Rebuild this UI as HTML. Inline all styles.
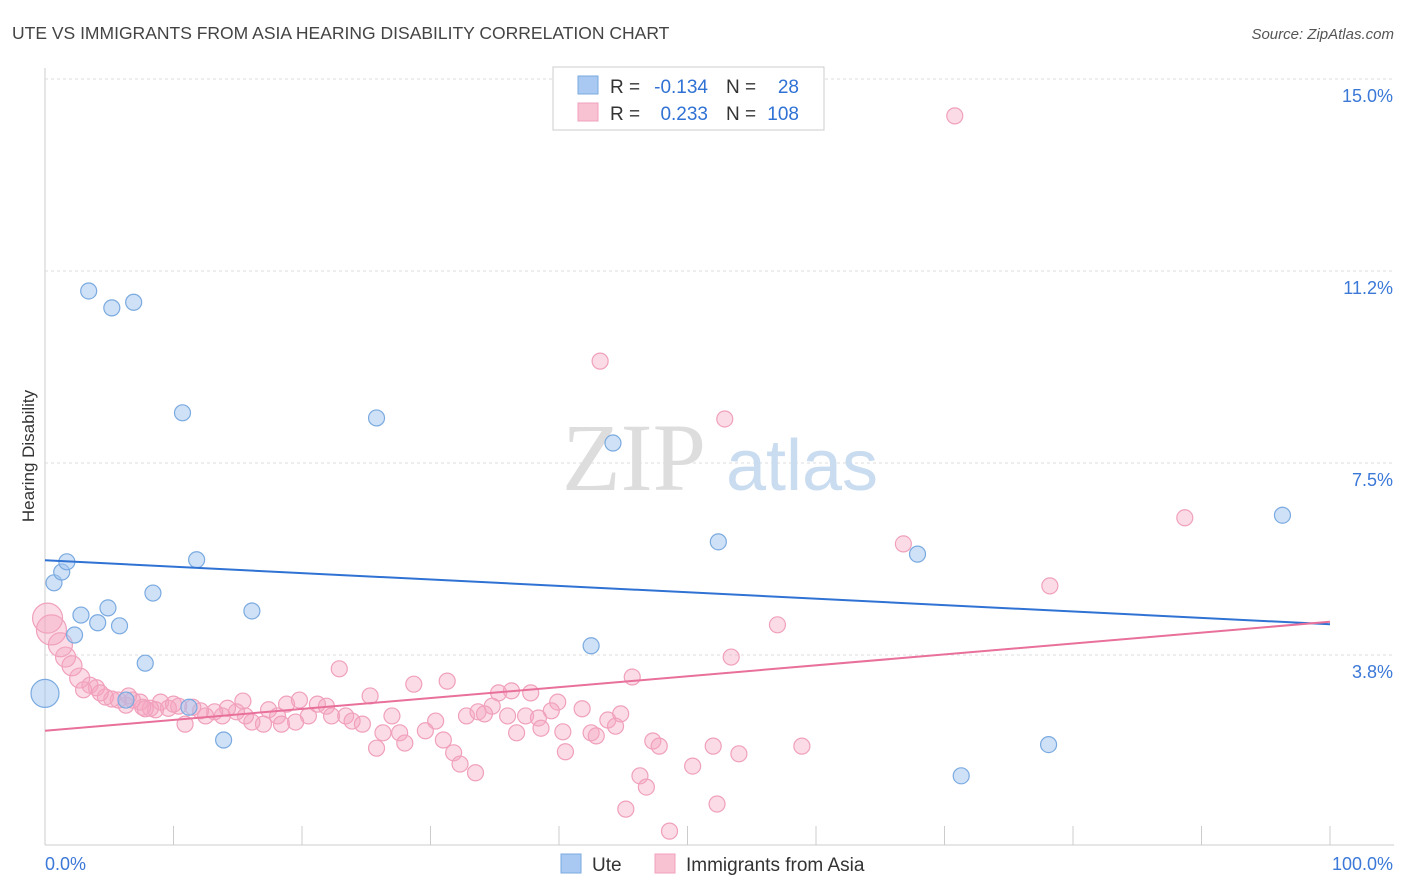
<!DOCTYPE html>
<html><head><meta charset="utf-8"><style>
body{margin:0;background:#fff;font-family:"Liberation Sans",sans-serif;}
svg{display:block}
</style></head><body>
<svg width="1406" height="892">
<text x="12" y="39" font-size="17.5" fill="#444">UTE VS IMMIGRANTS FROM ASIA HEARING DISABILITY CORRELATION CHART</text>
<text x="1394" y="39" font-size="15" fill="#555" font-style="italic" text-anchor="end">Source: ZipAtlas.com</text>
<text x="0" y="0" transform="translate(34,456) rotate(-90)" font-size="17" fill="#333" text-anchor="middle">Hearing Disability</text>
<g id="grid"></g>
<g><text x="634" y="490" font-size="96" font-family="Liberation Serif,serif" fill="#ddd" text-anchor="middle">ZIP</text><text x="802" y="490" font-size="72" fill="#c9dcf0" text-anchor="middle">atlas</text></g>
<g id="pts"></g>
<g id="lines"></g>
<g>
<rect x="553" y="67" width="271" height="63" fill="#fff" stroke="#ccc"/>
<rect x="578" y="76" width="20" height="18" fill="#a9c9f2" stroke="#7aaae0"/>
<rect x="578" y="103" width="20" height="18" fill="#f8c2d3" stroke="#f0a0bc"/>
<g font-size="19">
<text x="610" y="93" fill="#333">R =</text><text x="708" y="93" fill="#2f72d4" text-anchor="end">-0.134</text>
<text x="726" y="93" fill="#333">N =</text><text x="799" y="93" fill="#2f72d4" text-anchor="end">28</text>
<text x="610" y="120" fill="#333">R =</text><text x="708" y="120" fill="#2f72d4" text-anchor="end">0.233</text>
<text x="726" y="120" fill="#333">N =</text><text x="799" y="120" fill="#2f72d4" text-anchor="end">108</text>
</g>
</g>
<g>
<rect x="561" y="854" width="20" height="19" fill="#a9c9f2" stroke="#7aaae0"/>
<text x="592" y="871" font-size="19" fill="#333">Ute</text>
<rect x="655" y="854" width="20" height="19" fill="#f8c2d3" stroke="#f0a0bc"/>
<text x="686" y="871" font-size="19" fill="#333">Immigrants from Asia</text>
</g>
</svg>
<script>
const yTicks=[3.75,7.5,11.25,15];
const yTickLabels=["3.8%","7.5%","11.2%","15.0%"];
const xTicks=[0,10,20,30,40,50,60,70,80,90,100];
const uteX=[3.4,5.2,6.9,10.7,25.8,44.2,0.7,1.3,1.7,11.8,8.4,2.8,4.9,4.1,5.8,2.3,16.1,7.8,0,11.2,6.3,13.9,42.5,52.4,67.9,96.3,78.1,71.3];
const uteY=[10.86,10.53,10.64,8.48,8.38,7.89,5.16,5.37,5.57,5.61,4.96,4.53,4.67,4.38,4.32,4.14,4.61,3.59,3.0,2.73,2.87,2.09,3.93,5.96,5.72,6.48,2.0,1.39];
const asiaPx=[[955,116],[600,361],[725,419],[1185,518],[903,544],[1050,586],[777,625],[731,657],[632,677],[339,669],[414,684],[447,681],[370,696],[498,693],[512,691],[531,693],[558,702],[582,709],[621,714],[492,706],[466,716],[478,712],[485,714],[507,716],[525,716],[538,718],[551,711],[435,721],[425,731],[392,716],[400,733],[383,733],[405,743],[376,748],[443,740],[453,753],[460,764],[475,773],[517,733],[541,728],[566,752],[563,732],[591,733],[596,736],[608,720],[615,726],[653,741],[659,746],[640,776],[647,787],[692,766],[713,746],[739,754],[802,746],[626,809],[670,831],[717,804],[243,701],[268,710],[278,716],[287,704],[300,700],[308,716],[318,704],[326,706],[331,716],[346,716],[352,721],[362,724],[295,722],[281,724],[263,724],[252,722],[246,716],[236,712],[228,708],[222,716],[215,712],[206,716],[200,711],[185,724],[193,707],[178,706],[168,708],[161,702],[156,710],[150,708],[143,707],[140,702],[132,700],[126,705],[118,700],[112,699],[105,697],[97,688],[90,685],[80,678],[72,666],[66,657],[60,645],[52,630],[48,618],[83,690],[100,693],[128,696],[145,709],[173,704]];
const asiaX=asiaPx.map(p=>+((p[0]-45)/12.85).toFixed(1));
const asiaY=asiaPx.map(p=>+((847-p[1])/51.2).toFixed(2));
const uteLine=[5.6,4.35];
const asiaLine=[2.27,4.4];
const NS="http://www.w3.org/2000/svg";
const sx=v=>45+v*12.85, sy=v=>847-v*51.2;
function mk(t,a,p){const e=document.createElementNS(NS,t);for(const k in a)e.setAttribute(k,a[k]);p.appendChild(e);return e;}
const grid=document.getElementById('grid');
mk('line',{x1:45,y1:68,x2:45,y2:845,stroke:'#ccc'},grid);
mk('line',{x1:45,y1:845,x2:1394,y2:845,stroke:'#ccc'},grid);
yTicks.forEach((v,i)=>{
 const l=mk('line',{x1:45,y1:sy(v),x2:1394,y2:sy(v),stroke:'#ddd','stroke-dasharray':'3,3'},grid);
 
 
 const t=mk('text',{x:1393,y:sy(v)+23,'font-size':18,fill:'#3b78d8','text-anchor':'end'},grid);t.textContent=yTickLabels[i];
 
 
});
xTicks.forEach(v=>{const l=mk('line',{x1:sx(v),y1:826,x2:sx(v),y2:845,stroke:'#ccc'},grid);
 
 });
let t=mk('text',{x:45,y:870,'font-size':18,fill:'#3b78d8'},grid);t.textContent='0.0%';


t=mk('text',{x:1393,y:870,'font-size':18,fill:'#3b78d8','text-anchor':'end'},grid);t.textContent='100.0%';


const pts=document.getElementById('pts');
asiaX.forEach((x,i)=>{const big=x<0.6?15:(x<1.5?12:(x<3?10:8));
 const c=mk('circle',{cx:sx(x),cy:sy(asiaY[i]),r:big,fill:'rgba(245,165,192,0.4)',stroke:'#f0a0bc','stroke-width':1.2},pts);
 
 });
uteX.forEach((x,i)=>{const r=x===0?14:8;
 const c=mk('circle',{cx:sx(x),cy:sy(uteY[i]),r:r,fill:'rgba(160,196,240,0.5)',stroke:'#7aaae0','stroke-width':1.2},pts);
 
 });
const lines=document.getElementById('lines');
let l=mk('line',{x1:sx(0),y1:sy(uteLine[0]),x2:sx(100),y2:sy(uteLine[1]),stroke:'#2f72d4','stroke-width':2},lines);


l=mk('line',{x1:sx(0),y1:sy(asiaLine[0]),x2:sx(100),y2:sy(asiaLine[1]),stroke:'#e8709a','stroke-width':2},lines);


</script>
</body></html>
